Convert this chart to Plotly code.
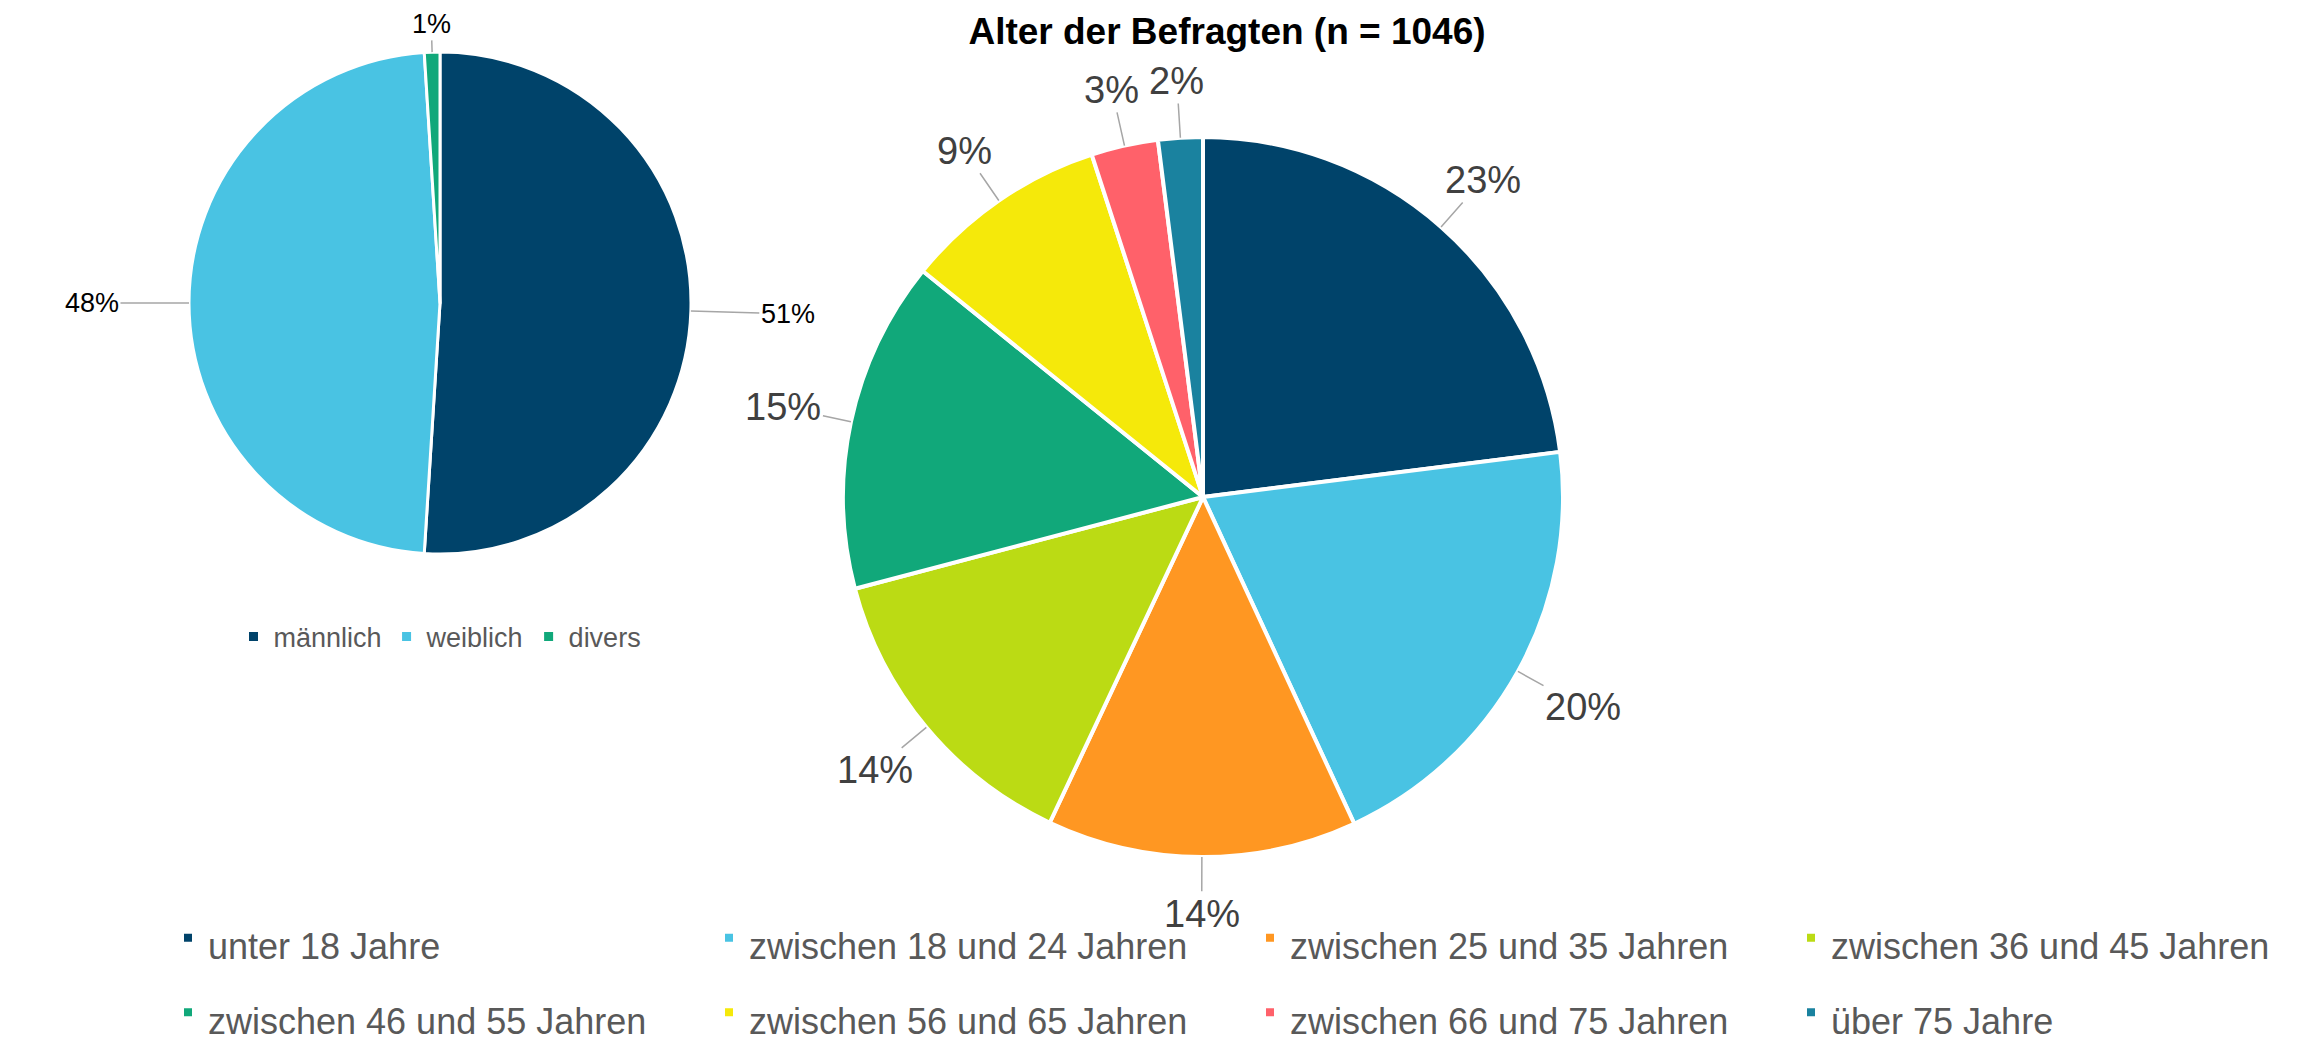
import math
import plotly.graph_objects as go

W, H = 2305, 1044
OFF = 8  # page body margin of the browser (pixels)

# ---- data ----
gender_labels = ["männlich", "weiblich", "divers"]
gender_values = [51.0, 48.0, 1.0]
gender_colors = ["#00436A", "#49C3E3", "#11A87A"]

age_labels = [
    "unter 18 Jahre",
    "zwischen 18 und 24 Jahren",
    "zwischen 25 und 35 Jahren",
    "zwischen 36 und 45 Jahren",
    "zwischen 46 und 55 Jahren",
    "zwischen 56 und 65 Jahren",
    "zwischen 66 und 75 Jahren",
    "über 75 Jahre",
]
age_values = [23.0, 20.1, 13.9, 13.9, 14.9, 9.2, 3.0, 2.0]
age_colors = ["#00436A", "#49C3E3", "#FF9722", "#BBDB14",
              "#11A87A", "#F5E90A", "#FF616A", "#1A829F"]

title_text = "Alter der Befragten (n = 1046)"

# ---- layout geometry (screen pixels) ----
FONT = "Liberation Sans, Arial, sans-serif"
L_CX, L_CY, L_R = 440, 303, 251
R_CX, R_CY, R_R = 1203, 497, 360


def px(sx):
    return (sx - OFF) / W


def py(sy):
    return 1 - (sy - OFF) / H


def domain(cx, cy, r):
    return dict(x=[px(cx - r), px(cx + r)], y=[py(cy + r), py(cy - r)])


fig = go.Figure()
fig.add_trace(go.Pie(
    labels=gender_labels, values=gender_values,
    marker=dict(colors=gender_colors, line=dict(color="white", width=3)),
    sort=False, direction="clockwise", rotation=0,
    textinfo="none", textposition="none", hoverinfo="label+percent",
    domain=domain(L_CX, L_CY, L_R), legend="legend",
))
fig.add_trace(go.Pie(
    labels=[f'<span style="font-size:36px">{l}</span>' for l in age_labels],
    values=age_values,
    marker=dict(colors=age_colors, line=dict(color="white", width=4)),
    sort=False, direction="clockwise", rotation=0,
    textinfo="none", textposition="none", hoverinfo="label+percent",
    domain=domain(R_CX, R_CY, R_R), legend="legend2",
))


def add_labels(cx, cy, r, values, gap_h, gap_v, fsize, color):
    total = sum(values)
    cum = 0.0
    for v in values:
        mid = (cum + v / 2) / total * 2 * math.pi
        cum += v
        txt = f"{round(v / total * 100):.0f}%"
        ux, uy = math.sin(mid), -math.cos(mid)
        ex, ey = cx + r * ux, cy + r * uy
        tw = 0.556 * fsize * (len(txt) - 1) + 0.889 * fsize
        th = fsize * 1.2
        ext = min(tw / 2 / max(abs(ux), 1e-6), th / 2 / max(abs(uy), 1e-6))
        gap = gap_h * ux * ux + gap_v * uy * uy
        d = gap + ext
        fig.add_annotation(
            x=px(ex), y=py(ey), xref="paper", yref="paper",
            text=txt, showarrow=True, arrowhead=0, arrowwidth=1.5,
            arrowcolor="#A6A6A6", ax=d * ux, ay=d * uy,
            font=dict(family=FONT, size=fsize, color=color),
        )


add_labels(L_CX, L_CY, L_R, gender_values, 70, 12, 27, "#000000")
add_labels(R_CX, R_CY, R_R, age_values, 30, 34, 38, "#404040")

fig.update_layout(
    width=W, height=H,
    margin=dict(l=0, r=0, t=0, b=0, autoexpand=False),
    paper_bgcolor="white", plot_bgcolor="white",
    title=dict(text=title_text, x=px(1227), xanchor="center",
               y=py(31), yanchor="middle",
               font=dict(family=FONT, size=37, color="#000000", weight="bold")),
    legend=dict(orientation="h", x=px(L_CX), xanchor="center",
                y=py(637), yanchor="middle",
                font=dict(family=FONT, size=27, color="#595959"),
                bgcolor="rgba(0,0,0,0)"),
    legend2=dict(orientation="h", x=px(168), xanchor="left",
                 y=py(975), yanchor="middle",
                 entrywidth=496, entrywidthmode="pixels",
                 font=dict(family=FONT, size=55, color="#595959"),
                 bgcolor="rgba(0,0,0,0)"),
)

fig.write_html("out.html")
